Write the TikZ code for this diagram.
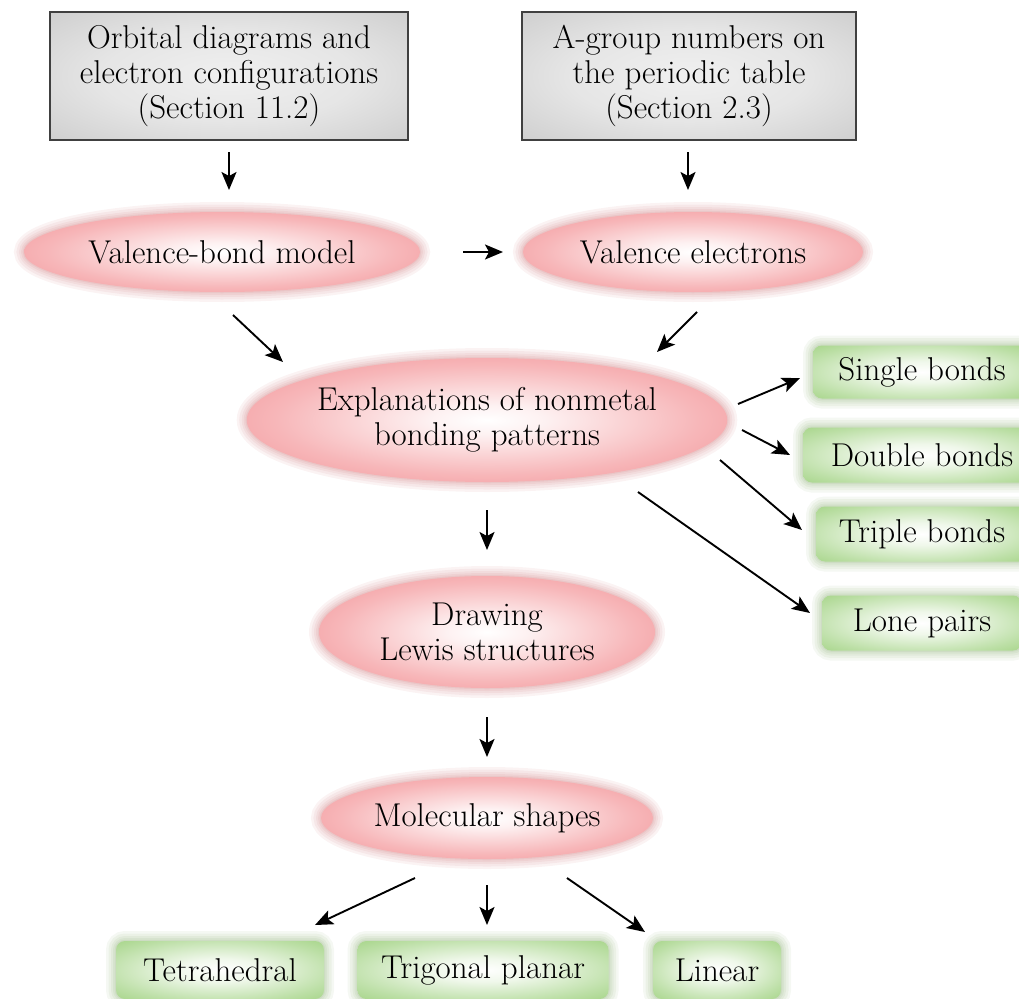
\documentclass[tikz,border=0pt]{standalone}
\usepackage{fontspec}
\usetikzlibrary{shapes.geometric,arrows.meta,calc}
\definecolor{pinkc}{RGB}{242,138,142}
\definecolor{greenc}{RGB}{152,206,118}
\definecolor{grayc}{RGB}{188,188,188}
\definecolor{halo}{RGB}{195,195,195}
\pgfdeclareradialshading{pinkglow}{\pgfpoint{0bp}{0bp}}{color(0bp)=(white); color(6bp)=(white!88!pinkc); color(22bp)=(pinkc!62!white); color(38bp)=(pinkc); color(46bp)=(pinkc); color(50bp)=(pinkc!80!halo)}
\pgfdeclareradialshading{grayglow}{\pgfpoint{0bp}{0bp}}{color(0bp)=(white!94!black); color(18bp)=(white!90!black); color(50bp)=(grayc); color(72bp)=(grayc!88!black)}
\pgfdeclareradialshading{greenglow}{\pgfpoint{0bp}{0bp}}{color(0bp)=(white); color(10bp)=(white!85!greenc); color(28bp)=(greenc!65!white); color(42bp)=(greenc); color(72bp)=(greenc!92!halo)}
\tikzset{
  txt/.style={font=\fontsize{33}{35}\selectfont, align=center, text=black},
  graybox/.style={txt, rectangle, shading=grayglow, draw=black!75, line width=1.3pt, inner sep=0pt},
  blur/.style={
    preaction={draw=#1, line width=20pt, draw opacity=0.13},
    preaction={draw=#1, line width=15pt, draw opacity=0.15},
    preaction={draw=#1, line width=10pt, draw opacity=0.17},
    preaction={draw=#1, line width=6pt, draw opacity=0.2},
    preaction={draw=#1, line width=2.5pt, draw opacity=0.25}},
  pinkell/.style={txt, ellipse, inner sep=0pt, shading=pinkglow, blur=pinkc!55!halo},
  greenbox/.style={txt, rectangle, rounded corners=9pt, inner sep=0pt, shading=greenglow, blur=greenc!45!halo},
  arr/.style={-{Stealth[length=18pt,width=15pt,inset=4pt]}, line width=1.9pt, black}
}
\begin{document}
\begin{tikzpicture}[x=1pt,y=-1pt]
\useasboundingbox (0,0) rectangle (1019,998);
\begin{scope}
\clip (0,0) rectangle (1019,998);
\node[graybox, minimum width=358pt, minimum height=128pt] (b1) at (229,76) {Orbital diagrams and\\electron configurations\\(Section 11.2)};
\node[graybox, minimum width=334pt, minimum height=128pt] (b2) at (689,76) {A-group numbers on\\the periodic table\\(Section 2.3)};
\node[pinkell, minimum width=396pt, minimum height=80pt] (vb) at (222,252) {Valence-bond model};
\node[pinkell, minimum width=340pt, minimum height=80pt] (ve) at (693,252) {Valence electrons};
\node[pinkell, minimum width=476pt, minimum height=124pt] (ex) at (487,420) {Explanations of nonmetal\\bonding patterns};
\node[pinkell, minimum width=336pt, minimum height=112pt] (dl) at (487,632) {Drawing\\Lewis structures};
\node[pinkell, minimum width=332pt, minimum height=82pt] (ms) at (487,818) {Molecular shapes};
\node[greenbox, minimum width=218pt, minimum height=53pt] (sb) at (922,372) {Single bonds};
\node[greenbox, minimum width=238pt, minimum height=55pt] (db) at (922,455) {Double bonds};
\node[greenbox, minimum width=212pt, minimum height=55pt] (tb) at (922,534) {Triple bonds};
\node[greenbox, minimum width=200pt, minimum height=55pt] (lp) at (922,623) {Lone pairs};
\node[greenbox, minimum width=208pt, minimum height=58pt] (tet) at (220,970) {Tetrahedral};
\node[greenbox, minimum width=251pt, minimum height=58pt] (tri) at (483,970) {Trigonal planar};
\node[greenbox, minimum width=128pt, minimum height=58pt] (lin) at (717,970) {Linear};
\end{scope}
\draw[arr] ($(b1)+(0,76)$) -- ($(vb)+(7,-62)$);
\draw[arr] ($(b2)+(-1,76)$) -- ($(ve)+(-5,-62)$);
\draw[arr] ($(vb)+(241,0)$) -- ($(ve)+(-190,0)$);
\draw[arr] ($(vb)+(11,63)$) -- ($(ex)+(-204,-58)$);
\draw[arr] ($(ve)+(4,60)$) -- ($(ex)+(170,-68)$);
\draw[arr] ($(ex)+(251,-16)$) -- ($(sb)+(-122,6)$);
\draw[arr] ($(ex)+(255,10)$) -- ($(db)+(-132,0)$);
\draw[arr] ($(ex)+(233,40)$) -- ($(tb)+(-120,-4)$);
\draw[arr] ($(ex)+(151,72)$) -- ($(lp)+(-112,-10)$);
\draw[arr] ($(ex)+(0,90)$) -- ($(dl)+(0,-82)$);
\draw[arr] ($(dl)+(0,85)$) -- ($(ms)+(0,-61)$);
\draw[arr] ($(ms)+(-72,60)$) -- ($(tet)+(95,-45)$);
\draw[arr] ($(ms)+(0,67)$) -- ($(tri)+(4,-45)$);
\draw[arr] ($(ms)+(80,60)$) -- ($(lin)+(-72,-38)$);
\end{tikzpicture}
\end{document}
